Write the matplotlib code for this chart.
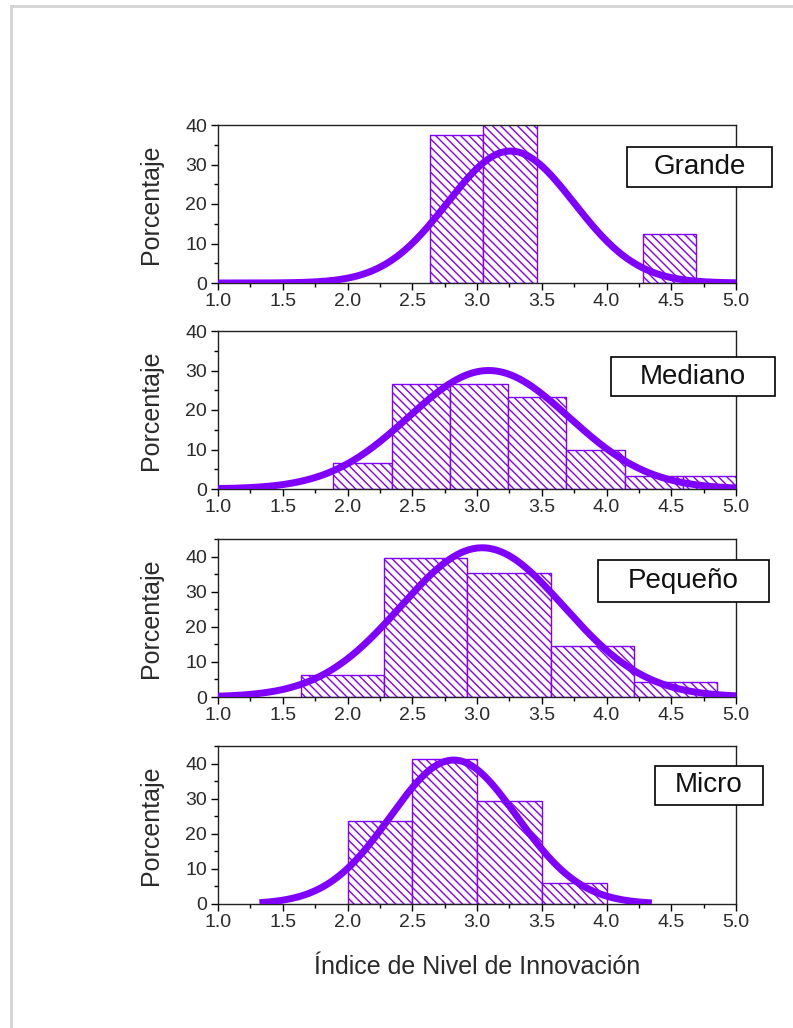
import numpy as np
import matplotlib
matplotlib.use("Agg")
import matplotlib.pyplot as plt
from matplotlib.patches import Rectangle
from matplotlib.ticker import MultipleLocator

plt.rcParams['font.family'] = ['Liberation Sans', 'DejaVu Sans']
plt.rcParams['hatch.linewidth'] = 1.0

# === Datos ===
grupos = ["Grande", "Mediano", "Pequeño", "Micro"]

# bordes de clase de cada histograma
bordes_grande = [2.64, 3.05, 3.46, 3.87, 4.28, 4.69]
bordes_mediano = [1.89, 2.34, 2.79, 3.24, 3.69, 4.14, 4.59, 5.04]
bordes_pequeno = [1.64, 2.28, 2.92, 3.57, 4.21, 4.85]
bordes_micro = [2.0, 2.5, 3.0, 3.5, 4.0]

# porcentajes por clase
pct_grande = [37.5, 50.0, 0.0, 0.0, 12.5]
pct_mediano = [6.67, 26.67, 26.67, 23.33, 10.0, 3.33, 3.33]
pct_pequeno = [6.25, 39.58, 35.42, 14.58, 4.17]
pct_micro = [23.53, 41.18, 29.41, 5.88]

# curva normal ajustada: media, desviación, altura máxima, rango
media = [3.26, 3.09, 3.04, 2.82]
desv = [0.49, 0.62, 0.63, 0.49]
pico = [33.4, 30.0, 42.5, 41.0]
rango_curva = [(1.0, 5.0), (1.0, 5.0), (1.0, 5.0), (1.32, 4.35)]

ylims = [40, 40, 45, 45]

bordes = [bordes_grande, bordes_mediano, bordes_pequeno, bordes_micro]
pcts = [pct_grande, pct_mediano, pct_pequeno, pct_micro]

violeta = '#7F00FF'

# === Layout (en pixeles de la imagen 793x1028) ===
W, H = 793, 1028
ax_left, ax_right = 218, 736
ax_bottoms = [283, 489, 697, 904]
ax_h = 158
cajas = [(627, 147, 772, 187), (611, 357, 775, 396),
         (598, 560, 769, 602), (655, 766, 763, 805)]

fig = plt.figure(figsize=(W / 100, H / 100), dpi=100)

# marco gris de la página
fig.add_artist(plt.Line2D([11 / W, 11 / W], [0, 1 - 6 / H], color='#d4d4d4', lw=2))
fig.add_artist(plt.Line2D([11 / W, 1], [1 - 6 / H, 1 - 6 / H], color='#d4d4d4', lw=2))

for i in range(4):
    ax = fig.add_axes([ax_left / W, 1 - ax_bottoms[i] / H,
                       (ax_right - ax_left) / W, ax_h / H])
    e = np.array(bordes[i])
    v = np.array(pcts[i])
    m = v > 0  # clases vacías no se dibujan
    ax.bar(e[:-1][m], v[m], width=np.diff(e)[m], align='edge',
           facecolor='white', edgecolor=violeta, hatch='\\\\\\\\', linewidth=1.0,
           zorder=2)

    x = np.linspace(rango_curva[i][0], rango_curva[i][1], 400)
    y = pico[i] * np.exp(-0.5 * ((x - media[i]) / desv[i]) ** 2)
    ax.plot(x, y, color=violeta, lw=5, solid_capstyle='butt', zorder=3)

    ax.set_xlim(1.0, 5.0)
    ax.set_ylim(0, ylims[i])
    ax.xaxis.set_major_locator(MultipleLocator(0.5))
    ax.xaxis.set_minor_locator(MultipleLocator(0.25))
    ax.yaxis.set_major_locator(MultipleLocator(10))
    ax.yaxis.set_minor_locator(MultipleLocator(5))
    ax.xaxis.set_major_formatter(matplotlib.ticker.FormatStrFormatter('%.1f'))
    ax.tick_params(which='major', direction='out', length=5, width=1,
                   labelsize=14, labelcolor='#2a2a2a')
    ax.tick_params(which='minor', direction='out', length=3, width=1)
    ax.tick_params(axis='x', pad=2)
    ax.tick_params(axis='y', pad=3)
    for s in ax.spines.values():
        s.set_linewidth(1.0)
        s.set_color('#222222')

    ax.set_ylabel("Porcentaje", fontsize=18, color='#2a2a2a')
    ax.yaxis.set_label_coords((163 - ax_left) / (ax_right - ax_left), 0.5)

    x0, y0, x1, y1 = cajas[i]
    fig.add_artist(Rectangle((x0 / W, 1 - y1 / H), (x1 - x0) / W, (y1 - y0) / H,
                             transform=fig.transFigure, facecolor='white',
                             edgecolor='black', lw=1.2, zorder=5))
    fig.text((x0 + x1) / 2 / W, 1 - (y0 + y1) / 2 / H, grupos[i], fontsize=20,
             ha='center', va='center', color='#111111', zorder=6)

    if i == 3:
        ax.set_xlabel("Índice de Nivel de Innovación", fontsize=18, color='#2a2a2a')
        ax.xaxis.set_label_coords(0.5, (ax_bottoms[i] - 955) / ax_h)

plt.savefig("out.png", dpi=100)
